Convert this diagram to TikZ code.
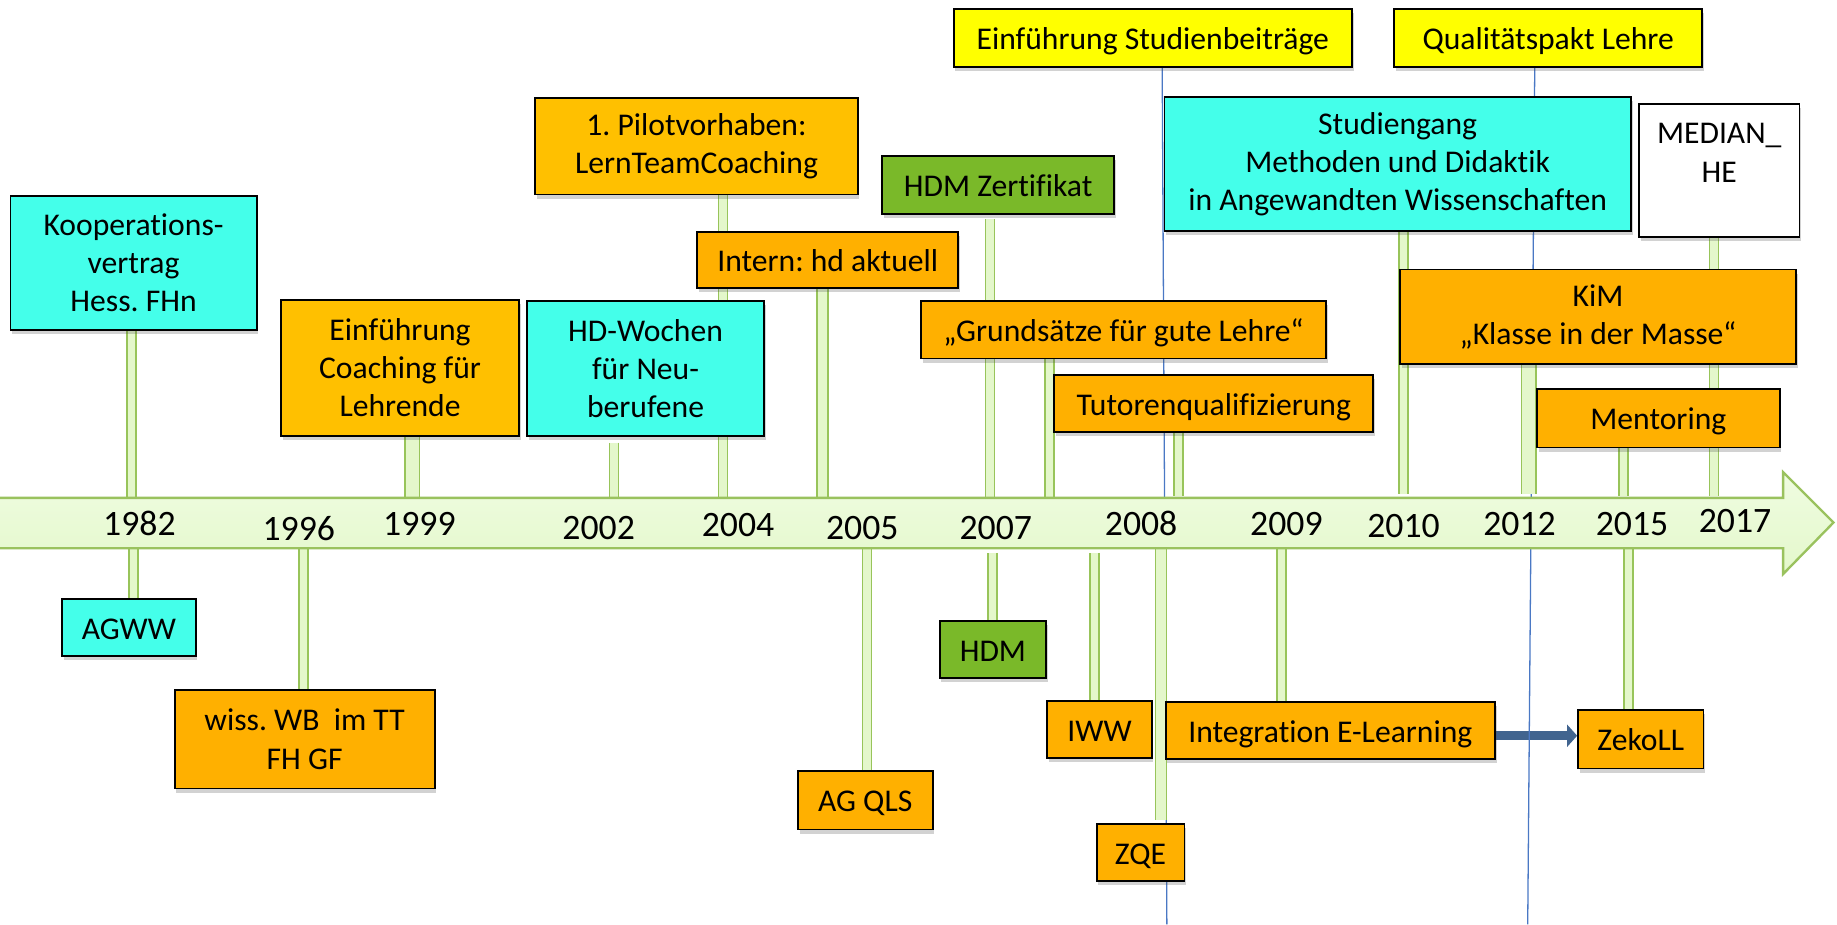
\documentclass[tikz,border=0pt]{standalone}
\usepackage{fontspec}
\setmainfont{Carlito}[Ligatures=CommonOff]
\usetikzlibrary{shadows,arrows.meta}
\pgfdeclarelayer{arr}
\pgfdeclarelayer{guides}
\pgfdeclarelayer{stems}
\pgfsetlayers{arr,guides,stems,main}
\definecolor{cyanbox}{HTML}{44FFEA}
\definecolor{orangeA}{HTML}{FFC000}
\definecolor{orangeB}{HTML}{FFB000}
\definecolor{greenbox}{HTML}{7AB929}
\definecolor{yellowbox}{HTML}{FFFF00}
\definecolor{bandfill}{HTML}{E4F8CB}
\definecolor{bandfilltop}{HTML}{EFFCE1}
\definecolor{bandborder}{HTML}{9AC25E}
\definecolor{stemfill}{HTML}{E4F7CB}
\definecolor{stemborder}{HTML}{98C45A}
\definecolor{guideblue}{HTML}{4A78C4}
\definecolor{arrowblue}{HTML}{41648F}
\begin{document}
\frenchspacing
\begin{tikzpicture}[x=1pt,y=-1pt,
  box/.style={draw=black, line width=1.6pt, inner sep=0pt, align=center,
    font=\fontsize{27}{32.5}\selectfont,
    drop shadow={shadow xshift=1.5pt, shadow yshift=-3.5pt, opacity=0.25, fill=black!70}},
  one/.style={text height=21.5pt, text depth=1.5pt},
  year/.style={font=\fontsize{30.5}{34}\selectfont, inner sep=0pt},
  stem/.style={draw=stemborder, line width=1.4pt, double=stemfill, double distance=#1},
  stem/.default=6.3pt,
  guide/.style={draw=guideblue, line width=1.1pt},
  flowarrow/.style={draw=arrowblue, line width=7.5pt, -{Triangle[width=18.5pt,length=8.5pt]}}]
\useasboundingbox (0,0) rectangle (1568,789);

\coordinate (bandtop) at (0,425);
\coordinate (bandbot) at (0,468);
\coordinate (esbEnd) at (996,789);
\coordinate (qplEnd) at (1304,789);

% timeline band
\fill[top color=bandfilltop, bottom color=bandfill]
  (0,425) -- (1522,425) -- (1522,403) -- (1565,446) -- (1522,490) -- (1522,468) -- (0,468) -- cycle;
\draw[bandborder, line width=2pt, line join=miter]
  (0,425) -- (1522,425) -- (1522,403) -- (1565,446) -- (1522,490) -- (1522,468) -- (0,468);

% years
\node[year] (y1982) at (119,447) {1982};
\node[year] (y1996) at (255,451) {1996};
\node[year] (y1999) at (358,447) {1999};
\node[year] (y2002) at (511,451) {2002};
\node[year] (y2004) at (630,448) {2004};
\node[year] (y2005) at (736,451) {2005};
\node[year] (y2007) at (850,451) {2007};
\node[year] (y2008) at (974,447) {2008};
\node[year] (y2009) at (1098,447) {2009};
\node[year] (y2010) at (1198,449) {2010};
\node[year] (y2012) at (1297,447) {2012};
\node[year] (y2015) at (1393,447) {2015};
\node[year] (y2017) at (1481,445) {2017};

% boxes above
\node[box, fill=cyanbox, minimum width=210pt, minimum height=115pt] (kv) at (114,224.5) {Kooperations-\\vertrag\\Hess. FHn};
\node[box, fill=orangeA, minimum width=203pt, minimum height=116pt] (ec) at (341.5,314) {Einführung\\Coaching für\\Lehrende};
\node[box, fill=cyanbox, minimum width=202pt, minimum height=115pt] (hdw) at (551,314.5) {HD-Wochen\\für Neu-\\berufene};
\node[box, fill=orangeA, minimum width=275pt, minimum height=82pt] (pilot) at (594.5,125) {1. Pilotvorhaben:\\LernTeamCoaching};
\node[box, one, fill=orangeB, minimum width=223pt, minimum height=48pt] (intern) at (706.5,222) {Intern: hd aktuell};
\node[box, one, fill=greenbox, minimum width=198pt, minimum height=50pt] (hdmz) at (852,158) {HDM Zertifikat};
\node[box, one, fill=orangeB, minimum width=346pt, minimum height=49pt] (gs) at (959,281.5) {„Grundsätze für gute Lehre“};
\node[box, one, fill=orangeB, minimum width=272pt, minimum height=49pt] (tq) at (1036,344.5) {Tutorenqualifizierung};
\node[box, one, fill=yellowbox, minimum width=340pt, minimum height=49pt] (esb) at (984,32.5) {Einführung Studienbeiträge};
\node[box, one, fill=yellowbox, minimum width=263pt, minimum height=49pt] (qpl) at (1321.5,32.5) {Qualitätspakt Lehre};
\node[box, fill=cyanbox, minimum width=398pt, minimum height=115pt] (sg) at (1193,140) {Studiengang\\Methoden und Didaktik\\in Angewandten Wissenschaften};
\node[box, fill=white, minimum width=137pt, minimum height=113pt] (med) at (1467.5,145.5) {MEDIAN\_\\HE\\[-4pt]\rule[-1.5pt]{0pt}{5pt}};
\node[box, fill=orangeB, minimum width=338pt, minimum height=81pt] (kim) at (1364,270.5) {KiM\\„Klasse in der Masse“};
\node[box, one, fill=orangeB, minimum width=207pt, minimum height=50pt] (ment) at (1415.5,357) {Mentoring};

% boxes below
\node[box, one, fill=cyanbox, minimum width=114pt, minimum height=49pt] (agww) at (110,535.5) {AGWW};
\node[box, fill=orangeB, minimum width=222pt, minimum height=84pt] (wiss) at (260,631) {wiss. WB\ \ im TT\\FH GF};
\node[box, one, fill=orangeB, minimum width=115pt, minimum height=50pt] (agqls) at (738.5,683) {AG QLS};
\node[box, one, fill=greenbox, minimum width=91pt, minimum height=49pt] (hdm) at (847.5,554.5) {HDM};
\node[box, one, fill=orangeB, minimum width=89pt, minimum height=49pt] (iww) at (938.5,622.5) {IWW};
\node[box, one, fill=orangeB, minimum width=281pt, minimum height=49pt] (iel) at (1135.5,623.5) {Integration E-Learning};
\node[box, one, fill=orangeB, minimum width=107pt, minimum height=50pt] (zekoll) at (1400.5,631) {ZekoLL};
\node[box, one, fill=orangeB, minimum width=75pt, minimum height=49pt] (zqe) at (973.5,727.5) {ZQE};

% guide lines (behind)
\begin{pgfonlayer}{guides}
\draw[guide] (esb.south -| 992,0) -- (esbEnd);
\draw[guide] (qpl.south -| 1310,0) -- (qplEnd);
\end{pgfonlayer}

% stems (behind boxes)
\begin{pgfonlayer}{stems}
\draw[stem] (kv.south -| 112,0) -- (bandtop -| 112,0);
\draw[stem=11pt] (ec.south -| 352,0) -- (bandtop -| 352,0);
\draw[stem] ([yshift=-5pt]hdw.south -| 524,0) -- ([yshift=-4pt]bandtop -| 524,0);
\draw[stem] (pilot.south -| 617,0) -- (bandtop -| 617,0);
\draw[stem=8pt] (intern.south -| 702,0) -- (bandtop -| 702,0);
\draw[stem] ([yshift=-3pt]hdmz.south -| 845,0) -- (bandtop -| 845,0);
\draw[stem] (gs.south -| 896,0) -- (bandtop -| 896,0);
\draw[stem] (tq.south -| 1006,0) -- ([yshift=2pt]bandtop -| 1006,0);
\draw[stem] (sg.south -| 1198,0) -- ([yshift=3pt]bandtop -| 1198,0);
\draw[stem=11pt] (kim.south -| 1305,0) -- ([yshift=3pt]bandtop -| 1305,0);
\draw[stem] (ment.south -| 1386,0) -- ([yshift=2pt]bandtop -| 1386,0);
\draw[stem] (med.south -| 1463,0) -- ([yshift=2pt]bandtop -| 1463,0);

\draw[stem] ([yshift=4pt]bandbot -| 114,0) -- (agww.north -| 114,0);
\draw[stem] (bandbot -| 259,0) -- (wiss.north -| 259,0);
\draw[stem] (bandbot -| 740,0) -- (agqls.north -| 740,0);
\draw[stem] ([yshift=-4pt]bandbot -| 847,0) -- (hdm.north -| 847,0);
\draw[stem] ([yshift=-4pt]bandbot -| 934,0) -- (iww.north -| 934,0);
\draw[stem=8pt] ([yshift=3pt]bandbot -| 991,0) -- ([yshift=2pt]zqe.north -| 991,0);
\draw[stem] (bandbot -| 1094,0) -- (iel.north -| 1094,0);
\draw[stem] ([yshift=4pt]bandbot -| 1390,0) -- (zekoll.north -| 1390,0);
\end{pgfonlayer}

% arrow
\begin{pgfonlayer}{arr}
\draw[flowarrow] ([yshift=-4.5pt]iel.east) -- ([yshift=-4.5pt]iel.east -| zekoll.west);
\end{pgfonlayer}
\end{tikzpicture}
\end{document}
